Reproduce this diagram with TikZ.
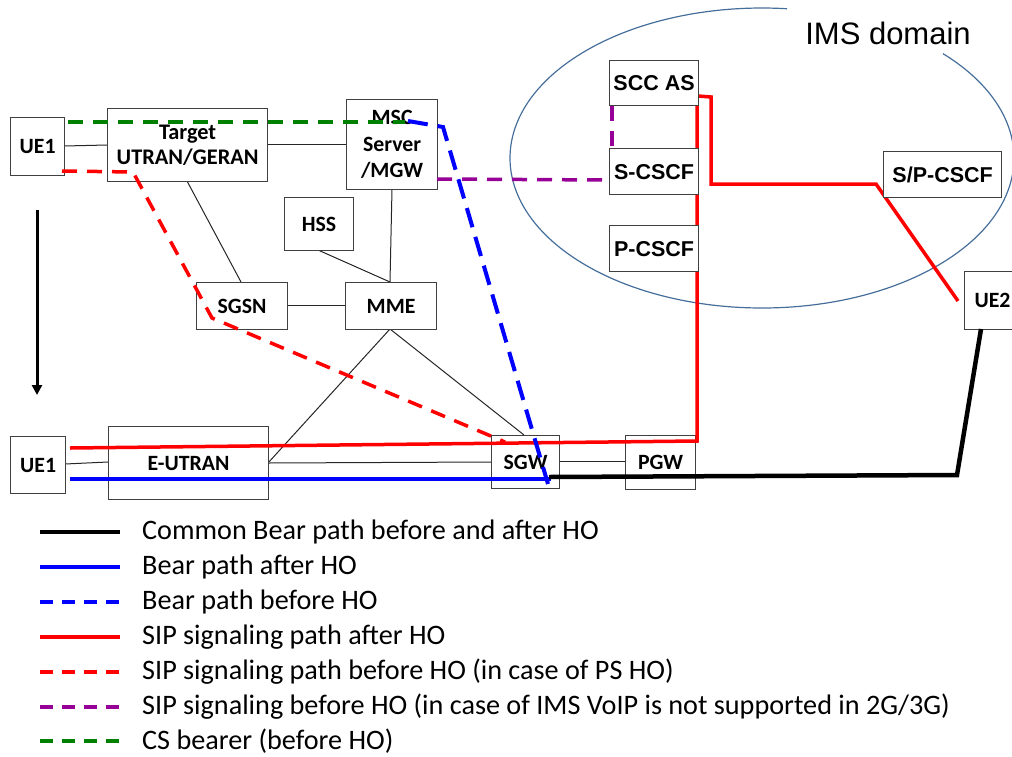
\documentclass[tikz,border=0pt]{standalone}
\usepackage{fontspec}
\setmainfont{Carlito}
\newfontfamily\calfont{Carlito}
\newfontfamily\arialfont{Liberation Sans}
\usetikzlibrary{arrows.meta}
\definecolor{boxgray}{RGB}{64,64,64}
\definecolor{imsblue}{RGB}{70,110,155}
\definecolor{sipred}{RGB}{255,0,0}
\definecolor{bearblue}{RGB}{0,0,255}
\definecolor{csgreen}{RGB}{0,128,0}
\definecolor{sippurple}{RGB}{150,0,150}
\tikzset{
  box/.style={draw=boxgray, line width=1.2pt, fill=white, inner sep=0pt, align=center,
    anchor=north west, font=\calfont\bfseries\fontsize{21.8}{25.5}\selectfont},
  abox/.style={box, font=\arialfont\bfseries\fontsize{21.5}{25}\selectfont},
  thin/.style={draw=black!85, line width=1pt},
  redline/.style={draw=sipred, line width=3.5pt, line join=miter},
  blueline/.style={draw=bearblue, line width=4pt},
  blackline/.style={draw=black, line width=4.5pt, line join=miter},
  reddash/.style={draw=sipred, line width=3.5pt, dash pattern=on 15pt off 10pt},
  bluedash/.style={draw=bearblue, line width=4pt, dash pattern=on 20pt off 10pt},
  greendash/.style={draw=csgreen, line width=3.5pt, dash pattern=on 15pt off 10pt},
  purpledash/.style={draw=sippurple, line width=3.5pt, dash pattern=on 15pt off 10pt},
  legtext/.style={anchor=west, inner sep=0pt, font=\calfont\fontsize{28.2}{32}\selectfont},
  legA/.style={draw=black, line width=3.5pt},
  legB/.style={draw=bearblue, line width=3.5pt},
  legC/.style={draw=bearblue, line width=3.5pt, dash pattern=on 13pt off 9pt},
  legD/.style={draw=sipred, line width=3.5pt},
  legE/.style={draw=sipred, line width=3.5pt, dash pattern=on 13pt off 9pt},
  legF/.style={draw=sippurple, line width=3.5pt, dash pattern=on 13pt off 9pt},
  legG/.style={draw=csgreen, line width=3.5pt, dash pattern=on 13pt off 9pt},
}
\begin{document}
\begin{tikzpicture}[x=1pt, y=-1pt]
\useasboundingbox (0,0) rectangle (1012,756);

% IMS domain ellipse (with gap for label)
\coordinate (imsc) at (762,158);
\draw[imsblue, line width=1.2pt] (imsc) ++(-44.1:252 and 150)
  arc[start angle=-44.1, end angle=275.7, x radius=252, y radius=150];
\node[font=\arialfont\fontsize{31}{34}\selectfont, inner sep=0pt, anchor=center] (imslabel) at (888,33) {IMS domain};

% thin connectors (coordinates on box borders)
\coordinate (ue1aE) at (64,146);
\coordinate (tgW) at (107,145);
\coordinate (tgE) at (267,144);
\coordinate (mscW) at (346,144);
\coordinate (tgS) at (187,181);
\coordinate (sgsnN) at (241,282);
\coordinate (mscS) at (392,189);
\coordinate (mmeN) at (390,282);
\coordinate (hssS) at (318,250);
\coordinate (sgsnE) at (287,305);
\coordinate (mmeW) at (345,305);
\coordinate (mmeS) at (390,329);
\coordinate (euE) at (268,463);
\coordinate (sgwN) at (524,435);
\coordinate (ue1bE) at (65,464);
\coordinate (euW) at (108,462);
\coordinate (sgwW) at (491,462);
\coordinate (sgwE) at (559,461);
\coordinate (pgwW) at (625,461);
\draw[thin] (ue1aE) -- (tgW);
\draw[thin] (tgE) -- (mscW);
\draw[thin] (tgS) -- (sgsnN);
\draw[thin] (mscS) -- (mmeN);
\draw[thin] (hssS) -- (mmeN);
\draw[thin] (sgsnE) -- (mmeW);
\draw[thin] (mmeS) -- (euE);
\draw[thin] (mmeS) -- (sgwN);
\draw[thin] (ue1bE) -- (euW);
\draw[thin] (euE) -- (sgwW);
\draw[thin] (sgwE) -- (pgwW);

% boxes (lower layer)
\node[box, minimum width=54pt, minimum height=58pt] (ue1a) at (10,117) {UE1};
\node[box, minimum width=160pt, minimum height=73pt, font=\calfont\bfseries\fontsize{22.3}{25.5}\selectfont] (target) at (107,108) {Target\\UTRAN/GERAN};
\node[box, minimum width=91pt, minimum height=90pt, font=\calfont\bfseries\fontsize{21.8}{26.5}\selectfont] (msc) at (346,99) {MSC\\Server\\/MGW};
\node[box, minimum width=69pt, minimum height=53pt] (hss) at (284,197) {HSS};
\node[box, minimum width=91pt, minimum height=47pt] (sgsn) at (196,282) {SGSN};
\node[box, minimum width=91pt, minimum height=47pt] (mme) at (345,282) {MME};
\node[box, minimum width=55pt, minimum height=57pt] (ue1b) at (10,436) {UE1};
\node[box, minimum width=160pt, minimum height=73pt] (eutran) at (108,426) {E-UTRAN};
\node[box, minimum width=68pt, minimum height=53pt] (sgw) at (491,435) {SGW};
\node[box, minimum width=70pt, minimum height=54pt] (pgw) at (625,435) {PGW};
\node[box, minimum width=54pt, minimum height=58pt, text width=52pt, align=left] (ue2) at (964,271) {\hspace*{9pt}UE2};

% coloured paths
\coordinate (rs1) at (70,448);
\coordinate (rs2) at (697,441);
\coordinate (rs3) at (697,105);
\draw[redline] (rs1) -- (rs2) -- (rs3);
\coordinate (rt1) at (698,96);
\coordinate (rt2) at (711,97);
\coordinate (rt3) at (711,184);
\coordinate (rt4) at (876,184);
\coordinate (rt5) at (958,301);
\draw[redline] (rt1) -- (rt2) -- (rt3) -- (rt4) -- (rt5);
\coordinate (bs1) at (70,479);
\coordinate (bs2) at (551,479);
\draw[blueline] (bs1) -- (bs2);
\coordinate (bk1) at (549,477);
\coordinate (bk2) at (957,475);
\coordinate (bk3) at (981,329);
\draw[blackline] (bk1) -- (bk2) -- (bk3);
\coordinate (gd1) at (68,122);
\coordinate (gd2) at (405,122);
\draw[greendash] (gd1) -- (gd2);
\coordinate (bd1) at (408,121);
\coordinate (bd2) at (443,127);
\coordinate (bd3) at (548,484);
\draw[bluedash] (bd1) -- (bd2) -- (bd3);
\coordinate (rd1) at (62,171);
\coordinate (rd2) at (133,172);
\coordinate (rd3) at (212,318);
\coordinate (rd4) at (505,442);
\draw[reddash] (rd1) -- (rd2) -- (rd3) -- (rd4);
\coordinate (pd1) at (437,179);
\coordinate (pd2) at (609,180);
\draw[purpledash] (pd1) -- (pd2);
\coordinate (pd3) at (612,106);
\coordinate (pd4) at (612,149);
\draw[purpledash] (pd3) -- (pd4);

% IMS boxes
\node[abox, minimum width=89pt, minimum height=45pt] (sccas) at (609,60) {SCC AS};
\node[abox, minimum width=89pt, minimum height=46pt] (scscf) at (609,148) {S-CSCF};
\node[abox, minimum width=89pt, minimum height=46pt] (pcscf) at (609,225) {P-CSCF};
\node[abox, minimum width=118pt, minimum height=46pt] (spcscf) at (883,151) {S/P-CSCF};

% movement arrow
\coordinate (arrA) at (37,210);
\coordinate (arrB) at (37,395);
\draw[line width=3pt, -{Triangle[length=10pt, width=10pt]}] (arrA) -- (arrB);

% legend
\foreach \y/\sty/\txt in {
  532/legA/{Common Bear path before and after HO},
  567/legB/{Bear path after HO},
  602/legC/{Bear path before HO},
  637/legD/{SIP signaling path after HO},
  672/legE/{SIP signaling path before HO (in case of PS HO)},
  707/legF/{SIP signaling before HO (in case of IMS VoIP is not supported in 2G/3G)},
  741/legG/{CS bearer (before HO)}}{
  \coordinate (la\y) at (40,\y);
  \coordinate (lb\y) at (120,\y);
  \draw[\sty] (la\y) -- (lb\y);
  \node[legtext] (lt\y) at (142,\y) {\txt};
}
\end{tikzpicture}
\end{document}
